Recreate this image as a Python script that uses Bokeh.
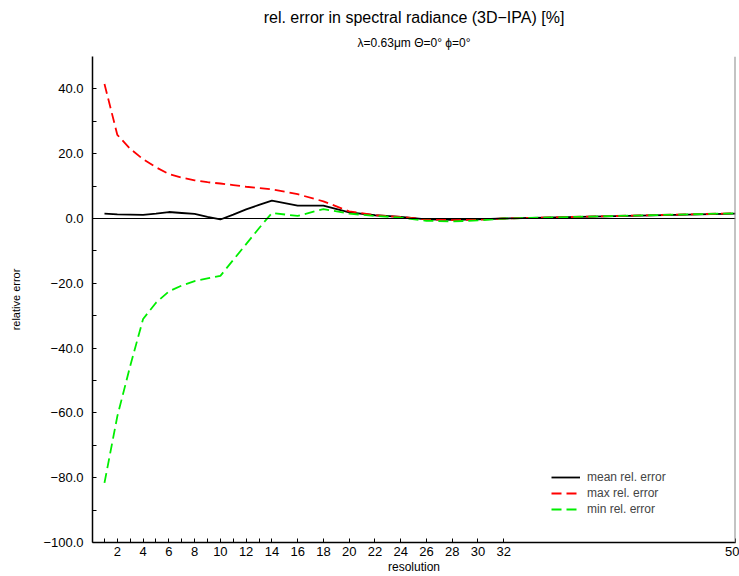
import math
from bokeh.plotting import figure
from bokeh.models import Range1d, FixedTicker, Span, Title, Legend, LegendItem
from bokeh.embed import file_html
from bokeh.resources import INLINE

# ---- data ----
resolution = [1, 2, 3, 4, 5, 6, 7, 8, 9, 10, 11, 12, 13, 14, 16, 18, 20, 22, 24, 26, 28, 30, 32, 50]
mean_err = [1.5, 1.3, 1.2, 1.1, 1.5, 2.0, 1.7, 1.4, 0.5, -0.3, 1.2, 2.8, 4.2, 5.5, 4.0, 4.0, 1.9, 1.0, 0.5, -0.3, -0.4, -0.3, 0.0, 1.5]
max_err = [41.5, 25.8, 21.5, 18.3, 15.8, 13.7, 12.6, 11.8, 11.2, 10.8, 10.3, 9.8, 9.4, 9.0, 7.5, 5.3, 2.2, 1.0, 0.5, -0.3, -0.5, -0.4, 0.0, 1.6]
min_err = [-81.6, -61.0, -45.5, -31.0, -26.0, -22.5, -20.7, -19.3, -18.5, -17.7, -12.8, -7.9, -3.0, 1.7, 0.8, 2.9, 1.5, 0.8, 0.3, -0.7, -0.9, -0.6, 0.0, 1.6]

x_ticks = [1, 2, 3, 4, 5, 6, 7, 8, 9, 10, 11, 12, 13, 14, 16, 18, 20, 22, 24, 26, 28, 30, 32, 50]
x_tick_labels = ["", "2", "", "4", "", "6", "", "8", "", "10", "", "12", "", "14", "16", "18", "20", "22", "24", "26", "28", "30", "32", "50"]
y_ticks = [-100, -80, -60, -40, -20, 0, 20, 40]
y_tick_labels = ["\u2212100.0", "\u221280.0", "\u221260.0", "\u221240.0", "\u221220.0", "0.0", "20.0", "40.0"]
y_minor_ticks = [-90, -70, -50, -30, -10, 10, 30]

title_text = "rel. error in spectral radiance (3D\u2212IPA) [%]"
subtitle_text = "\u03bb=0.63\u03bcm \u0398=0\u00b0 \u03d5=0\u00b0"

FONT = "Liberation Sans"

p = figure(width=739, height=576, output_backend="svg", toolbar_location=None,
           x_range=Range1d(0.07, 50), y_range=Range1d(-100, 50),
           min_border_left=92, min_border_right=4, min_border_top=56, min_border_bottom=34)
p.grid.visible = False
p.outline_line_color = None
p.background_fill_color = "white"
p.border_fill_color = "white"

# titles: subtitle nearest to plot, main title above it
p.title.visible = False
p.add_layout(Title(text=subtitle_text, align="center", text_font=FONT, text_font_size="12px",
                   text_font_style="normal", text_color="black", standoff=13), "above")
p.add_layout(Title(text=title_text, align="center", text_font=FONT, text_font_size="16px",
                   text_font_style="normal", text_color="black", standoff=3), "above")

# axes
p.xaxis.ticker = FixedTicker(ticks=x_ticks, minor_ticks=[])
p.xaxis.major_label_overrides = {t: l for t, l in zip(x_ticks, x_tick_labels)}
p.yaxis.ticker = FixedTicker(ticks=y_ticks, minor_ticks=y_minor_ticks)
p.yaxis.major_label_overrides = {t: l for t, l in zip(y_ticks, y_tick_labels)}
for ax in (p.xaxis, p.yaxis):
    ax.axis_line_color = "black"
    ax.axis_line_width = 1.5
    ax.major_tick_in = 4
    ax.major_tick_out = 0
    ax.minor_tick_in = 4
    ax.minor_tick_out = 0
    ax.major_tick_line_color = "black"
    ax.minor_tick_line_color = "black"
    ax.major_label_text_font = FONT
    ax.major_label_text_font_size = "13px"
    ax.major_label_text_color = "black"
    ax.axis_label_text_font = FONT
    ax.axis_label_text_font_style = "normal"
    ax.axis_label_text_color = "black"
p.xaxis.major_label_standoff = 4
p.yaxis.major_label_standoff = 9
p.xaxis.axis_label = "resolution"
p.xaxis.axis_label_text_font_size = "12px"
p.xaxis.axis_label_standoff = 1
p.yaxis.axis_label = "relative error"
p.yaxis.axis_label_text_font_size = "11px"
p.yaxis.axis_label_standoff = 18

# zero line and right border
p.add_layout(Span(location=0, dimension="width", line_color="black", line_width=1))
p.add_layout(Span(location=50, dimension="height", line_color="#888888", line_width=2))

r_mean = p.line(resolution, mean_err, line_color="black", line_width=1.8)
r_max = p.line(resolution, max_err, line_color="#ff0000", line_width=1.8, line_dash="10 5")
r_min = p.line(resolution, min_err, line_color="#00ee00", line_width=1.8, line_dash="10 5")

legend = Legend(items=[LegendItem(label="mean rel. error", renderers=[r_mean]),
                       LegendItem(label="max rel. error", renderers=[r_max]),
                       LegendItem(label="min rel. error", renderers=[r_min])],
                location=(459, 25), padding=0, margin=0, spacing=0,
                glyph_width=29, glyph_height=16, label_height=16, label_standoff=7,
                label_text_font=FONT, label_text_font_size="12px",
                border_line_alpha=0, background_fill_alpha=0)
p.add_layout(legend)

open("out.html", "w").write(file_html(p, INLINE))
